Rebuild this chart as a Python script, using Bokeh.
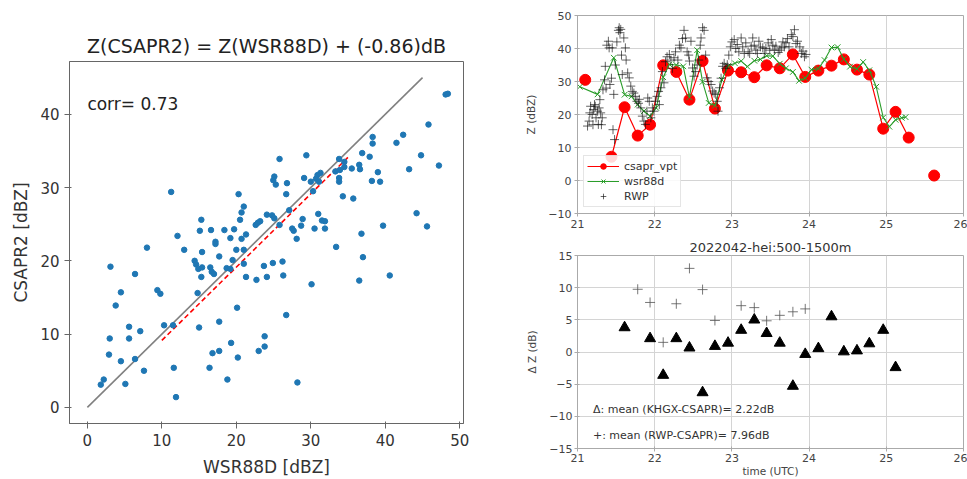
import numpy as np
from bokeh.plotting import figure
from bokeh.layouts import row, column
from bokeh.models import Range1d, Label, FixedTicker
from bokeh.embed import file_html
from bokeh.resources import INLINE

FONT = "DejaVu Sans"

# ---------------- scatter (left) data ----------------
wsr88d_dbz = [11.25, 20.3, 21.0, 20.7, 15.3, 20.5, 15.1, 16.6, 18.4, 19.7, 12.1, 19.2, 20.7, 21.3,
              22.6, 22.9, 23.2, 24.1, 17.2, 17.2, 8.0, 13.0, 15.4, 20.0, 21.0, 17.7, 19.5, 14.4,
              14.6, 14.9, 15.4, 16.5, 16.7, 17.0, 15.3, 18.7, 19.2, 21.0, 21.3, 22.7, 23.7, 24.1,
              24.9, 3.1, 6.4, 9.4, 9.8, 4.5, 3.8, 14.8, 20.1, 10.3, 11.5, 5.6, 7.1, 15.0, 17.7,
              3.0, 5.6, 19.3, 23.8, 23.8, 23.0, 17.7, 16.8, 2.9, 6.4, 4.5, 20.2, 11.6, 16.4, 7.6,
              18.8, 2.2, 1.8, 5.1, 11.9,
              48.1, 48.4, 45.8, 42.4, 38.3, 38.3, 41.5, 36.9, 37.9, 44.8, 47.2, 43.2, 25.8, 29.4,
              33.8, 34.5, 36.5, 36.6, 35.5, 34.5, 33.9, 33.3, 31.3, 30.9, 30.7, 31.1, 30.0, 29.1,
              39.0, 38.2, 39.3, 33.8, 33.8, 25.1, 25.3, 24.96, 26.8, 26.7, 30.3, 34.3, 35.7, 27.1,
              24.8, 25.1, 25.8, 31.0, 28.9, 31.5, 31.9, 28.7, 27.5, 27.7, 30.5, 31.9, 28.1, 44.2,
              45.6, 39.7, 36.8, 33.4, 37.0, 26.2, 26.3, 30.1, 36.5, 40.6, 26.7, 28.2]
csapr2_dbz = [29.4, 29.1, 27.4, 26.6, 25.6, 25.6, 24.1, 24.2, 24.2, 24.3, 23.4, 23.1, 23.0, 23.6,
              24.9, 25.2, 25.4, 26.3, 22.6, 22.3, 21.8, 21.5, 21.2, 21.5, 21.5, 20.6, 20.1, 20.0,
              19.5, 18.9, 19.1, 19.1, 18.5, 18.2, 17.8, 19.0, 18.9, 19.6, 17.8, 17.4, 19.3, 17.8,
              19.7, 19.2, 18.2, 16.0, 15.5, 15.7, 13.9, 15.6, 13.6, 11.2, 11.2, 11.0, 10.4, 10.9, 11.7,
              9.4, 9.4, 8.8, 9.7, 8.3, 7.7, 7.7, 7.4, 7.2, 6.6, 6.3, 6.8, 5.4, 5.4, 5.0,
              3.8, 3.8, 3.1, 3.2, 1.4,
              42.7, 42.8, 38.6, 37.2, 36.9, 36.0, 36.1, 34.7, 34.2, 34.4, 33.0, 32.5, 33.9, 34.4,
              33.9, 33.5, 33.1, 32.5, 32.6, 32.8, 32.4, 32.2, 32.0, 31.7, 31.2, 30.8, 30.8, 31.3,
              32.1, 30.9, 30.8, 31.3, 30.8, 31.5, 30.4, 31.0, 30.6, 29.1, 29.5, 28.8, 28.5, 26.9,
              26.2, 25.8, 24.9, 26.4, 25.7, 25.5, 25.4, 24.8, 24.4, 24.1, 24.4, 24.4, 23.0, 26.5,
              24.7, 24.8, 23.7, 21.9, 20.5, 19.9, 18.0, 16.8, 17.3, 18.0, 12.6, 3.4]
one_to_one = [0, 45]
fit_x = [10, 35]
bias_db = -0.86
corr = 0.73

# ---------------- time series (top right) ----------------
t_csapr = [21.10, 21.27, 21.44, 21.61, 21.78, 21.94, 22.11, 22.28, 22.45, 22.62, 22.78, 22.95,
           23.12, 23.29, 23.45, 23.62, 23.79, 23.95, 24.12, 24.29, 24.45, 24.62, 24.78, 24.96,
           25.12, 25.29, 25.45, 25.62]
z_csapr = [30.5, np.nan, 7.2, 22.2, 13.6, 16.9, 34.9, 32.9, 24.5, 36.2, 21.8, 33.3,
           32.8, 31.3, 34.9, 34.0, 38.2, 31.4, 33.3, 34.8, 36.7, 33.6, 32.1, 15.7,
           20.8, 13.0, np.nan, 1.5]

t_wsr = [21.03, 21.26, 21.47, 21.61, 21.70, 21.78, 21.86, 21.94, 22.02, 22.11, 22.19, 22.28,
         22.37, 22.45, 22.55, 22.62, 22.70, 22.78, 22.87, 22.95, 23.04, 23.12, 23.20, 23.29,
         23.37, 23.45, 23.53, 23.62, 23.70, 23.79, 23.87, 23.95, 24.03, 24.12, 24.20, 24.29,
         24.37, 24.45, 24.53, 24.62, 24.70, 24.78, 24.87, 24.96, 25.04, 25.12, 25.20, 25.25]
z_wsr = [28.4, 26.1, 37.2, 26.0, 25.5, 23.0, 21.0, 19.5, 22.0, 31.3, 35.2, 35.0,
         34.6, 25.2, 39.5, 29.9, 23.5, 22.7, 30.5, 34.7, 35.5, 36.2, 34.5, 36.3,
         36.7, 37.8, 37.7, 35.4, 34.0, 32.9, 30.2, 31.0, 33.6, 33.9, 36.5, 40.3,
         40.4, 36.8, 34.5, 33.8, 35.9, 33.4, 28.4, 19.1, 16.3, 18.4, 19.0, 19.2]

t_rwp = [21.13, 21.15, 21.16, 21.17, 21.19, 21.20, 21.21, 21.22, 21.23, 21.24, 21.26, 21.27,
         21.28, 21.29, 21.30, 21.31, 21.32, 21.33, 21.35, 21.36, 21.37, 21.38, 21.40, 21.41,
         21.42, 21.44, 21.45, 21.46, 21.47, 21.48, 21.49, 21.51, 21.53, 21.54, 21.55, 21.56,
         21.57, 21.58, 21.60, 21.62, 21.63, 21.65, 21.67, 21.69, 21.71, 21.73, 21.75, 21.77,
         21.79, 21.80, 21.82, 21.84, 21.86, 21.88, 21.90, 21.91, 21.93, 21.95, 21.97, 21.99,
         22.01, 22.03, 22.05, 22.06, 22.08, 22.10, 22.12, 22.14, 22.16, 22.19, 22.21, 22.23,
         22.25, 22.27, 22.30, 22.32, 22.34, 22.36, 22.38, 22.40, 22.42, 22.44, 22.45, 22.47,
         22.49, 22.51, 22.53, 22.55, 22.57, 22.59, 22.60, 22.62, 22.64, 22.66, 22.68, 22.70,
         22.73, 22.75, 22.77, 22.79, 22.81, 22.82, 22.84, 22.86, 22.88, 22.90, 22.92, 22.94,
         22.96, 22.98, 23.00, 23.03, 23.05, 23.07, 23.09, 23.12, 23.14, 23.16, 23.18, 23.21,
         23.23, 23.25, 23.27, 23.29, 23.31, 23.33, 23.35, 23.37, 23.40, 23.42, 23.44, 23.47,
         23.49, 23.51, 23.53, 23.55, 23.57, 23.60, 23.62, 23.64, 23.66, 23.68, 23.70, 23.72,
         23.74, 23.77, 23.79, 23.81, 23.83, 23.85, 23.88, 23.90, 23.92, 23.94, 23.96]
z_rwp = [16.5, 18.0, 20.5, 22.5, 20.0, 16.9, 21.5, 23.0, 22.5, 19.0, 21.0, 17.0,
         22.0, 24.5, 20.5, 16.9, 19.0, 27.5, 30.5, 34.6, 28.0, 41.0, 42.2, 40.2,
         29.1, 31.0, 40.2, 15.4, 26.1, 12.4, 35.0, 42.0, 45.5, 46.3, 44.8, 45.8,
         38.0, 32.1, 43.2, 40.2, 36.5, 32.6, 31.1, 28.6, 27.0, 26.5, 25.5, 24.0,
         23.4, 24.6, 22.0, 19.5, 18.0, 17.0, 21.0, 25.0, 24.0, 19.0, 22.0, 21.0,
         24.0, 25.5, 27.0, 23.0, 28.1, 33.0, 29.6, 36.0, 37.5, 38.2, 36.5, 34.0,
         37.2, 39.0, 36.5, 41.0, 40.2, 43.0, 45.5, 43.2, 39.0, 38.0, 36.2, 42.2,
         34.1, 31.6, 33.0, 35.0, 36.5, 41.0, 43.2, 46.3, 45.5, 38.0, 31.1, 30.0,
         29.1, 27.1, 26.5, 26.1, 24.0, 21.0, 28.1, 31.0, 34.6, 35.5, 34.0, 35.1,
         38.0, 40.5, 42.0, 42.7, 40.0, 41.2, 39.0, 43.2, 40.5, 38.5, 41.7, 39.0,
         38.5, 40.7, 43.2, 41.0, 39.5, 38.5, 42.2, 40.5, 40.2, 38.5, 40.0, 41.7,
         39.5, 42.7, 41.0, 39.5, 40.7, 38.8, 39.5, 40.2, 42.0, 40.5, 41.7, 43.0,
         40.5, 44.2, 43.6, 45.7, 41.5, 42.2, 40.5, 38.5, 39.2, 37.5, 38.2]

# ---------------- differences (bottom right) ----------------
t_diff_wsr = [21.61, 21.94, 22.11, 22.28, 22.45, 22.62, 22.78, 22.95, 23.12, 23.29, 23.45,
              23.62, 23.79, 23.95, 24.12, 24.29, 24.45, 24.62, 24.78, 24.96, 25.12]
dz_wsr = [3.8, 2.1, -3.6, 2.1, 0.65, -6.3, 0.9, 1.4, 3.4, 5.0, 2.9,
          1.4, -5.3, -0.35, 0.55, 5.5, 0.05, 0.2, 1.3, 3.4, -2.4]
t_diff_rwp = [21.78, 21.94, 22.11, 22.28, 22.45, 22.62, 22.78, 23.12, 23.29, 23.45, 23.62,
              23.79, 23.95]
dz_rwp = [9.75, 7.7, 1.5, 7.5, 13.0, 9.7, 4.9, 7.2, 6.9, 4.85, 5.7, 6.25, 6.7]
mean_khgx = 2.22
mean_rwp = 7.96


def style_axes(p, tick_size, label_size, color, line_color):
    for ax in (p.xaxis, p.yaxis):
        ax.major_label_text_font = FONT
        ax.major_label_text_font_size = tick_size
        ax.major_label_text_color = color
        ax.axis_label_text_font = FONT
        ax.axis_label_text_font_size = label_size
        ax.axis_label_text_font_style = "normal"
        ax.axis_label_text_color = color
        ax.minor_tick_line_color = None
        ax.axis_line_color = line_color
        ax.major_tick_line_color = line_color
    p.outline_line_color = line_color
    p.outline_line_alpha = 1.0


# ---------------- left figure ----------------
p1 = figure(width=500, height=479, x_range=Range1d(-2.4, 50.5), y_range=Range1d(-2.2, 47.2),
            output_backend="svg", toolbar_location=None,
            min_border_left=69, min_border_right=37, min_border_top=61, min_border_bottom=55,
            title="Z(CSAPR2) = Z(WSR88D) + (" + str(bias_db) + ")dB")
p1.title.text_font = FONT
p1.title.text_font_size = "19px"
p1.title.text_font_style = "normal"
p1.title.align = "center"
p1.title.text_color = "#222222"
p1.grid.visible = False
style_axes(p1, "15px", "17px", "#333333", "#666666")
p1.xaxis.ticker = FixedTicker(ticks=[0, 10, 20, 30, 40, 50])
p1.yaxis.ticker = FixedTicker(ticks=[0, 10, 20, 30, 40])
p1.xaxis.axis_label = "WSR88D [dBZ]"
p1.yaxis.axis_label = "CSAPR2 [dBZ]"
p1.xaxis.major_tick_out = 5
p1.yaxis.major_tick_out = 5
p1.xaxis.axis_label_standoff = 8
p1.yaxis.axis_label_standoff = 6

p1.line(one_to_one, one_to_one, color="#808080", line_width=1.6)
fit_y = [v + bias_db for v in fit_x]
p1.line(fit_x, fit_y, color="red", line_width=1.6, line_dash="5 3")
p1.scatter(wsr88d_dbz, csapr2_dbz, size=5.5, color="#1f77b4", line_color="#1f77b4")
p1.add_layout(Label(x=0, y=40, text="corr= " + str(corr), text_font=FONT,
                    text_font_size="17px", text_color="#222222"))

# ---------------- top right ----------------
p2 = figure(width=467, height=234, x_range=Range1d(21, 26), y_range=Range1d(-10, 50),
            output_backend="svg", toolbar_location=None,
            min_border_left=77, min_border_right=4, min_border_top=15, min_border_bottom=21)
style_axes(p2, "11px", "10.5px", "#444444", "#aaaaaa")
p2.grid.grid_line_color = "#d4d4d4"
p2.xaxis.ticker = FixedTicker(ticks=[21, 22, 23, 24, 25, 26])
p2.yaxis.ticker = FixedTicker(ticks=[-10, 0, 10, 20, 30, 40, 50])
p2.yaxis.axis_label = "Z (dBZ)"
for ax in (p2.xaxis, p2.yaxis):
    ax.major_tick_out = 3
    ax.major_label_standoff = 3
p2.yaxis.axis_label_standoff = 8

tc = np.array(t_csapr)
zc = np.array(z_csapr)
p2.line(tc, zc, color="red", line_width=1.2, legend_label="csapr_vpt")
p2.scatter(tc, zc, size=11, color="red", legend_label="csapr_vpt")
p2.line(t_wsr, z_wsr, color="#2a9d2a", line_width=1.1, legend_label="wsr88d")
p2.scatter(t_wsr, z_wsr, marker="x", size=8, line_color="#2a9d2a", line_width=1,
           legend_label="wsr88d")
p2.scatter(t_rwp, z_rwp, marker="cross", size=9, line_color="#111111", line_alpha=0.65,
           line_width=1, legend_label="RWP")
lg = p2.legend[0]
lg.location = "bottom_left"
lg.label_text_font = FONT
lg.label_text_font_size = "11px"
lg.label_text_color = "#333333"
lg.glyph_width = 32
lg.glyph_height = 14
lg.label_height = 14
lg.spacing = 1
lg.padding = 3
lg.margin = 6
lg.border_line_color = "#cccccc"
lg.background_fill_alpha = 0.85

# ---------------- bottom right ----------------
p3 = figure(width=467, height=245, x_range=Range1d(21, 26), y_range=Range1d(-15, 15),
            output_backend="svg", toolbar_location=None,
            min_border_left=77, min_border_right=4, min_border_top=21, min_border_bottom=26,
            title="2022042-hei:500-1500m")
p3.title.text_font = FONT
p3.title.text_font_size = "13px"
p3.title.text_font_style = "normal"
p3.title.align = "center"
p3.title.text_color = "#333333"
p3.title.standoff = 1
style_axes(p3, "11px", "10.5px", "#444444", "#aaaaaa")
p3.grid.grid_line_color = "#d4d4d4"
p3.xaxis.ticker = FixedTicker(ticks=[21, 22, 23, 24, 25, 26])
p3.yaxis.ticker = FixedTicker(ticks=[-15, -10, -5, 0, 5, 10, 15])
p3.xaxis.axis_label = "time (UTC)"
p3.yaxis.axis_label = "\u0394 Z (dB)"
for ax in (p3.xaxis, p3.yaxis):
    ax.major_tick_out = 3
    ax.major_label_standoff = 2
p3.xaxis.axis_label_standoff = 0
p3.yaxis.axis_label_standoff = 8

p3.scatter(t_diff_rwp, dz_rwp, marker="cross", size=10, line_color="#555555", line_alpha=0.8,
           line_width=1)
p3.scatter(t_diff_wsr, dz_wsr, marker="triangle", size=11, color="black")
p3.add_layout(Label(x=21.2, y=-10, text="\u0394: mean (KHGX-CSAPR)= " + str(mean_khgx) + "dB",
                    text_font=FONT, text_font_size="11px", text_color="#333333"))
p3.add_layout(Label(x=21.2, y=-14, text="+: mean (RWP-CSAPR)= " + str(mean_rwp) + "dB",
                    text_font=FONT, text_font_size="11px", text_color="#333333"))

layout = row(p1, column(p2, p3, spacing=0), spacing=0)
open("out.html", "w").write(file_html(layout, INLINE))
